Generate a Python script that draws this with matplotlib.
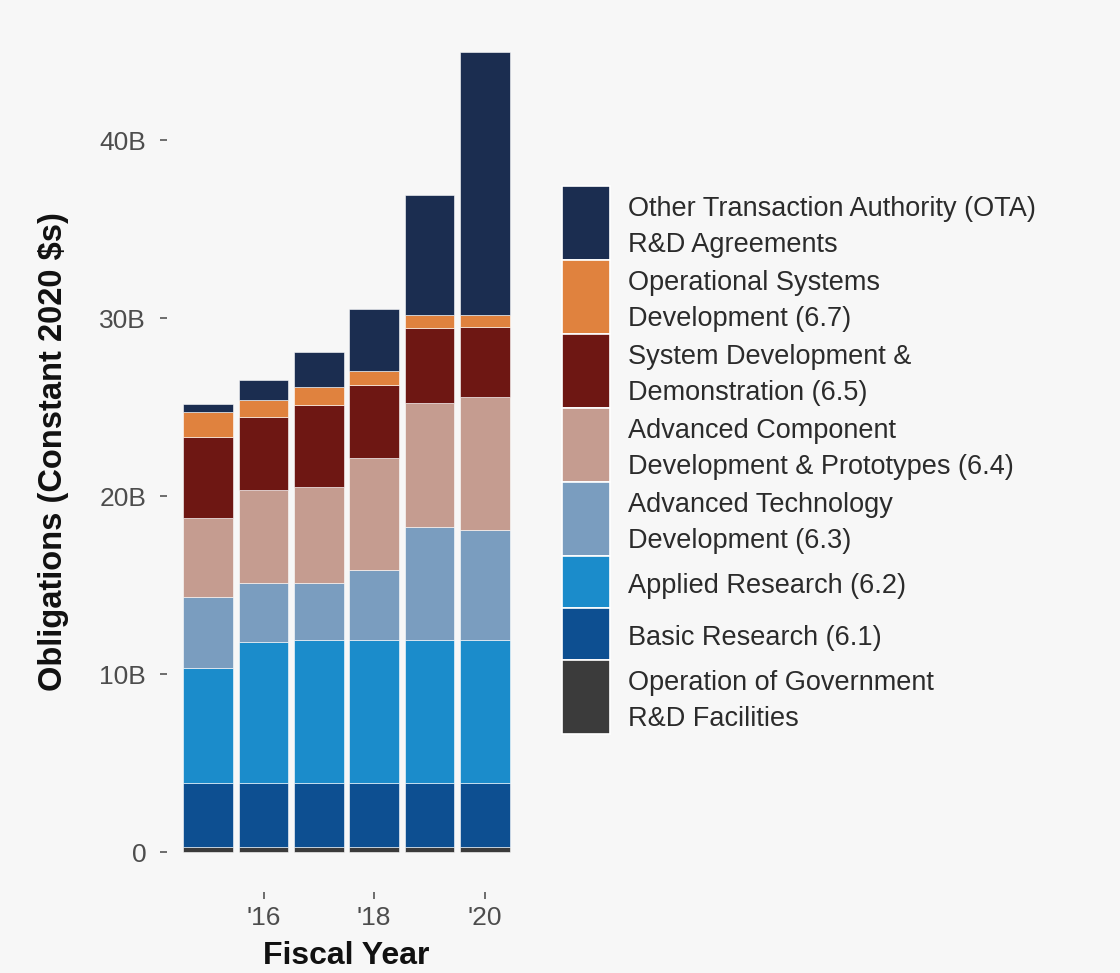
import matplotlib
matplotlib.use("Agg")
import matplotlib.pyplot as plt
from matplotlib.patches import Rectangle
import numpy as np

plt.rcParams['font.family'] = ['Liberation Sans', 'DejaVu Sans']

# ---------------- data ----------------
years = [2015, 2016, 2017, 2018, 2019, 2020]
x_tick_years = [2016, 2018, 2020]
x_tick_labels = ["'16", "'18", "'20"]
y_ticks = [0, 10, 20, 30, 40]
y_tick_labels = ["0", "10B", "20B", "30B", "40B"]

# values in billions of constant 2020 dollars, stacked bottom -> top
gov_facilities = [0.3, 0.3, 0.3, 0.3, 0.3, 0.3]
basic_research = [3.55, 3.55, 3.55, 3.6, 3.6, 3.55]
applied_research = [6.5, 7.95, 8.05, 8.0, 8.0, 8.05]
adv_tech_dev = [4.0, 3.3, 3.2, 3.95, 6.35, 6.2]
adv_comp_dev = [4.4, 5.25, 5.4, 6.3, 7.0, 7.45]
sys_dev_demo = [4.55, 4.1, 4.6, 4.1, 4.2, 3.95]
oper_sys_dev = [1.4, 0.95, 1.0, 0.75, 0.7, 0.7]
ota_agreements = [0.5, 1.1, 2.0, 3.5, 6.75, 14.75]

series = [gov_facilities, basic_research, applied_research, adv_tech_dev,
          adv_comp_dev, sys_dev_demo, oper_sys_dev, ota_agreements]
labels = ["Operation of Government\nR&D Facilities",
          "Basic Research (6.1)",
          "Applied Research (6.2)",
          "Advanced Technology\nDevelopment (6.3)",
          "Advanced Component\nDevelopment & Prototypes (6.4)",
          "System Development &\nDemonstration (6.5)",
          "Operational Systems\nDevelopment (6.7)",
          "Other Transaction Authority (OTA)\nR&D Agreements"]
colors = ["#3B3B3B", "#0D4F91", "#1B8CCB", "#7A9DBF",
          "#C59C90", "#6E1713", "#E0823E", "#1B2D50"]

bg = "#F7F7F7"

# ---------------- figure ----------------
fig = plt.figure(figsize=(11.2, 9.73), dpi=100, facecolor=bg)
ax = fig.add_axes([0.1491, 0.0832, 0.3205, 0.9045], facecolor=bg)

bottom = np.zeros(len(years))
for vals, col in zip(series, colors):
    v = np.array(vals)
    ax.bar(years, v, width=0.9, bottom=bottom, color=col,
           edgecolor="white", linewidth=0.4)
    bottom += v

ax.set_xlim(2014.255, 2020.745)
ax.set_ylim(-2.25, 47.2)
for s in ax.spines.values():
    s.set_visible(False)

ax.set_xticks(x_tick_years)
ax.set_xticklabels(x_tick_labels)
ax.set_yticks(y_ticks)
ax.set_yticklabels(y_tick_labels)
ax.tick_params(axis="both", colors="#555555", labelcolor="#4D4D4D",
               labelsize=19, length=5, width=1.2)
ax.tick_params(axis="y", pad=10)
ax.tick_params(axis="x", pad=5)

ax.set_xlabel("Fiscal Year", fontsize=23, fontweight="bold", color="#111111",
              labelpad=8)
ax.set_ylabel(r"Obligations (Constant 2020 \$s)", fontsize=23.5,
              fontweight="bold", color="#111111", labelpad=22)

# ---------------- legend (manual, pixel coordinates) ----------------
lax = fig.add_axes([0, 0, 1, 1], facecolor="none")
lax.set_xlim(0, 1120)
lax.set_ylim(973, 0)
lax.axis("off")

key_x, key_w = 562, 48
text_x = 628
line_h = 37
y = 186
for lab, col in zip(labels[::-1], colors[::-1]):
    lines = lab.split("\n")
    h = 74 if len(lines) == 2 else 52
    lax.add_patch(Rectangle((key_x, y), key_w, h, facecolor=col,
                            edgecolor="white", linewidth=1.2))
    cy = y + h / 2 + 4
    n = len(lines)
    for i, ln in enumerate(lines):
        ly = cy + (i - (n - 1) / 2) * line_h
        lax.text(text_x, ly, ln, fontsize=19.5, color="#2B2B2B",
                 ha="left", va="center")
    y += h

fig.savefig("out.png", dpi=100, facecolor=bg)
